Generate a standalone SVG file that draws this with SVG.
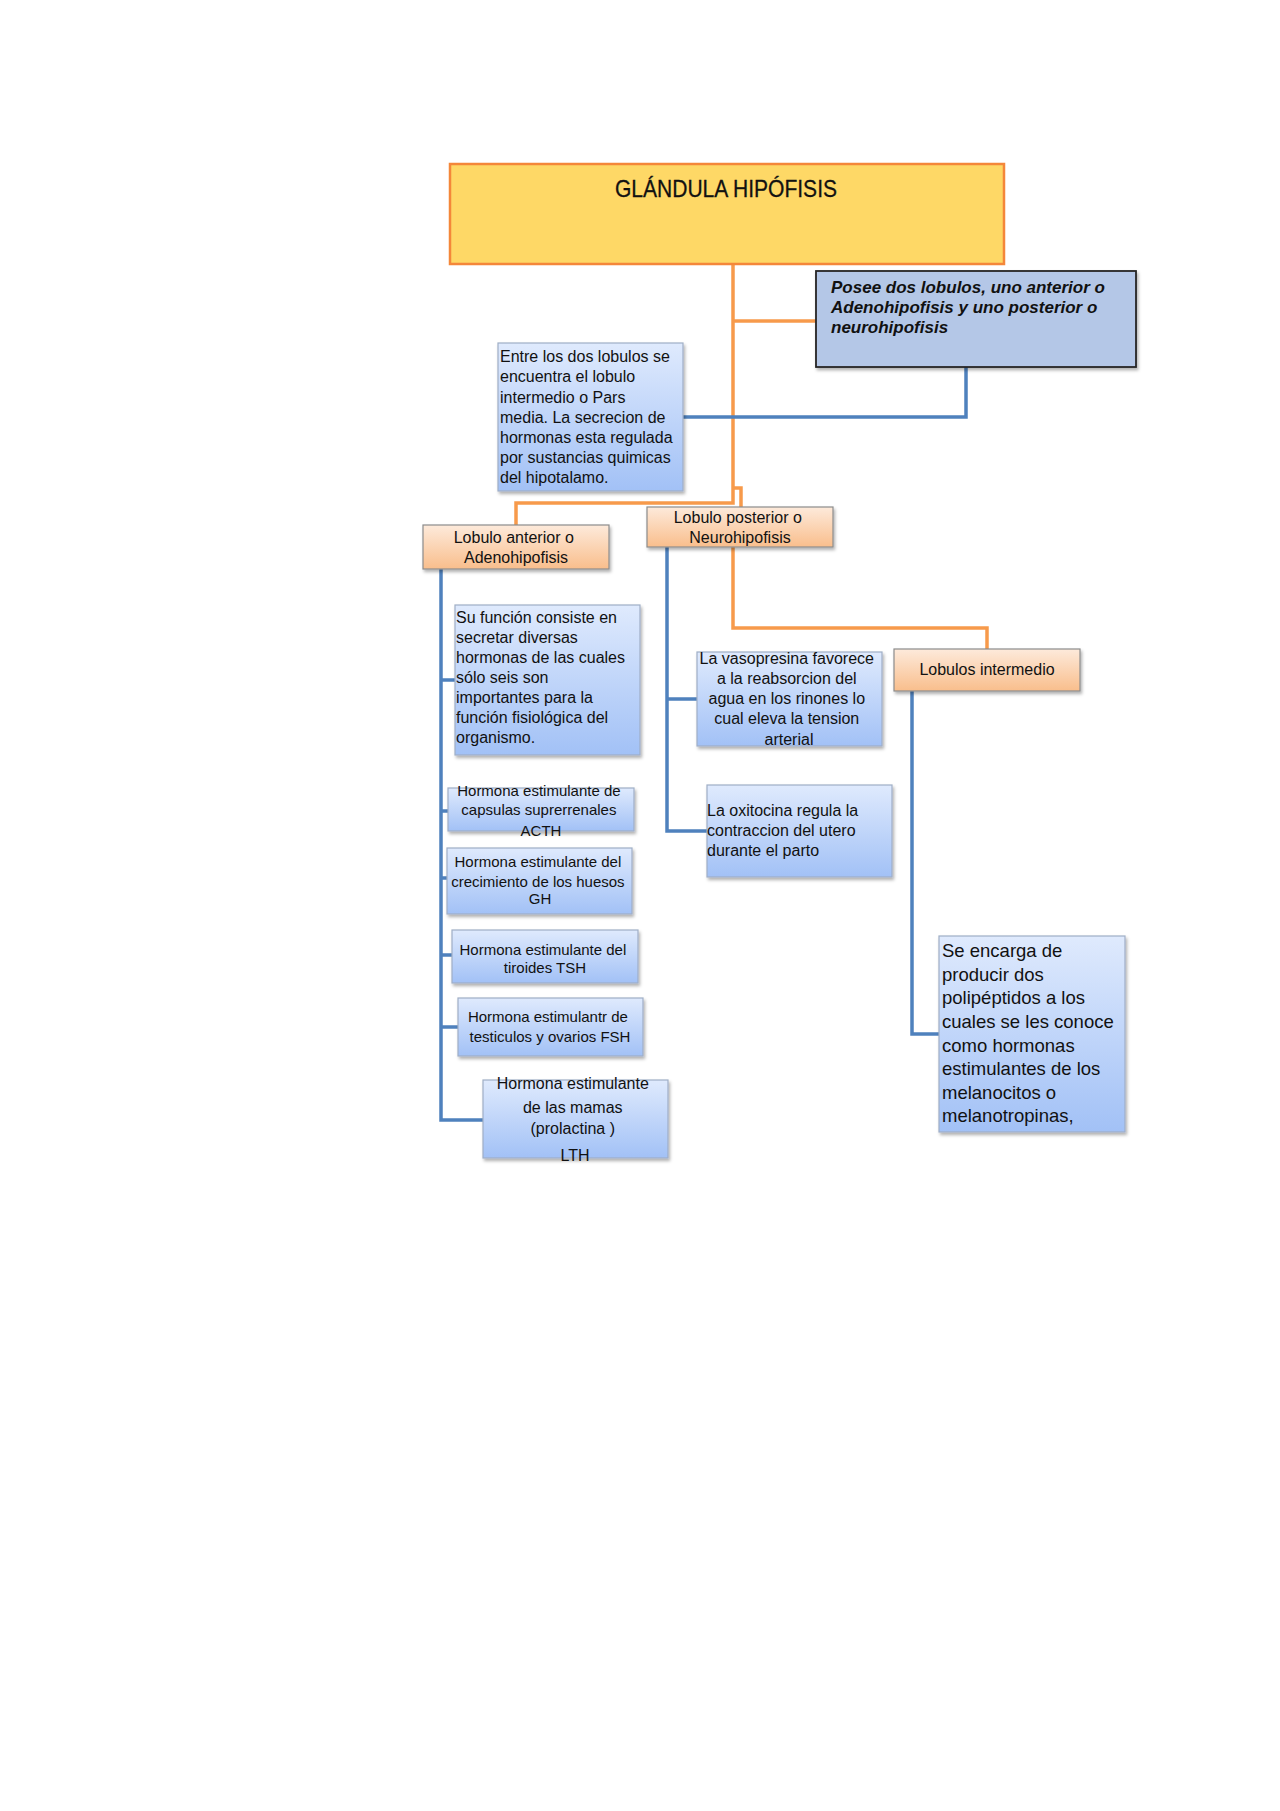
<svg xmlns="http://www.w3.org/2000/svg" width="1280" height="1811" viewBox="0 0 1280 1811">
<defs>
<linearGradient id="gBlue" x1="0" y1="0" x2="0" y2="1">
<stop offset="0" stop-color="#DFEAFD"/>
<stop offset="1" stop-color="#A2C1F6"/>
</linearGradient>
<linearGradient id="gPeach" x1="0" y1="0" x2="0" y2="1">
<stop offset="0" stop-color="#FDEADB"/>
<stop offset="1" stop-color="#F9BE8C"/>
</linearGradient>
<filter id="sh" x="-5%" y="-5%" width="115%" height="125%">
<feDropShadow dx="1.5" dy="2.5" stdDeviation="1.5" flood-color="#000" flood-opacity="0.3"/>
</filter>
<style>
.or{fill:none;stroke:#F79A4B;stroke-width:3.5;stroke-linejoin:miter}
.bl{fill:none;stroke:#4F81BD;stroke-width:3.5;stroke-linejoin:miter}
.bbox{fill:url(#gBlue);stroke:#9FAEC6;stroke-width:1.2;filter:url(#sh)}
.pbox{fill:url(#gPeach);stroke:#8C8C8C;stroke-width:1.2;filter:url(#sh)}
.t{font-family:"Liberation Sans",Arial,sans-serif;fill:#111}
.s16{font-size:16px}
.s15{font-size:15px}
.c{text-anchor:middle}
</style>
</defs>
<rect width="1280" height="1811" fill="#ffffff"/>

<g id="connectors">
<path class="or" d="M733,264 V503 H516 V525"/>
<path class="or" d="M733,321 H816"/>
<path class="or" d="M733,488 H741 V507"/>
<path class="or" d="M733,547 V628 H987 V649"/>
<path class="bl" d="M966,367 V417 H683"/>
<path class="bl" d="M441,569 V1120 H483"/>
<path class="bl" d="M441,680 H455 M441,811 H448 M441,878 H447 M441,955 H452 M441,1027 H458"/>
<path class="bl" d="M667,547 V831 H707 M667,699 H697"/>
<path class="bl" d="M912,691 V1034 H939"/>
</g>

<g id="title">
<rect x="450" y="164" width="554" height="100" fill="#FED866" stroke="#F4873A" stroke-width="2.5"/>
<text class="t" x="615" y="197" font-size="24" textLength="222" lengthAdjust="spacingAndGlyphs" stroke="#111" stroke-width="0.3">GLÁNDULA HIPÓFISIS</text>
</g>

<g id="posee">
<rect x="816" y="271" width="320" height="96" fill="#B4C7E7" stroke="#262626" stroke-width="1.8" filter="url(#sh)"/>
<text class="t" font-size="17" font-weight="bold" font-style="italic">
<tspan x="831" y="293">Posee dos lobulos, uno anterior o</tspan>
<tspan x="831" y="313">Adenohipofisis y uno posterior o</tspan>
<tspan x="831" y="333">neurohipofisis</tspan>
</text>
</g>

<g id="entre">
<rect class="bbox" x="498" y="343" width="185" height="148"/>
<text class="t s16">
<tspan x="500" y="362">Entre los dos lobulos se</tspan>
<tspan x="500" y="382">encuentra el lobulo</tspan>
<tspan x="500" y="403">intermedio o Pars</tspan>
<tspan x="500" y="423">media. La secrecion de</tspan>
<tspan x="500" y="443">hormonas esta regulada</tspan>
<tspan x="500" y="463">por sustancias quimicas</tspan>
<tspan x="500" y="483">del hipotalamo.</tspan>
</text>
</g>

<g id="anterior">
<rect class="pbox" x="423" y="525" width="186" height="44"/>
<text class="t s16 c">
<tspan x="516" y="543">Lobulo anterior o</tspan>
<tspan x="516" y="563">Adenohipofisis</tspan>
</text>
</g>

<g id="posterior">
<rect class="pbox" x="647" y="507" width="186" height="40"/>
<text class="t s16 c">
<tspan x="740" y="523">Lobulo posterior o</tspan>
<tspan x="740" y="543">Neurohipofisis</tspan>
</text>
</g>

<g id="intermedio">
<rect class="pbox" x="894" y="649" width="186" height="42"/>
<text class="t s16 c" x="987" y="675">Lobulos intermedio</text>
</g>

<g id="funcion">
<rect class="bbox" x="455" y="605" width="185" height="150"/>
<text class="t s16">
<tspan x="456" y="623">Su función consiste en</tspan>
<tspan x="456" y="643">secretar diversas</tspan>
<tspan x="456" y="663">hormonas de las cuales</tspan>
<tspan x="456" y="683">sólo seis son</tspan>
<tspan x="456" y="703">importantes para la</tspan>
<tspan x="456" y="723">función fisiológica del</tspan>
<tspan x="456" y="743">organismo.</tspan>
</text>
</g>

<g id="acth">
<rect class="bbox" x="448" y="788" width="186" height="43"/>
<text class="t s15 c">
<tspan x="541" y="796">Hormona estimulante de</tspan>
<tspan x="541" y="815">capsulas suprerrenales</tspan>
<tspan x="541" y="836">ACTH</tspan>
</text>
</g>

<g id="gh">
<rect class="bbox" x="447" y="848" width="185" height="66"/>
<text class="t s15 c">
<tspan x="540" y="867">Hormona estimulante del</tspan>
<tspan x="540" y="887">crecimiento de los huesos</tspan>
<tspan x="540" y="904">GH</tspan>
</text>
</g>

<g id="tsh">
<rect class="bbox" x="452" y="930" width="186" height="53"/>
<text class="t s15 c">
<tspan x="545" y="955">Hormona estimulante del</tspan>
<tspan x="545" y="973">tiroides TSH</tspan>
</text>
</g>

<g id="fsh">
<rect class="bbox" x="458" y="998" width="185" height="58"/>
<text class="t s15 c">
<tspan x="550" y="1022">Hormona estimulantr de</tspan>
<tspan x="550" y="1042">testiculos y ovarios FSH</tspan>
</text>
</g>

<g id="lth">
<rect class="bbox" x="483" y="1080" width="185" height="78"/>
<text class="t s16 c">
<tspan x="575" y="1089">Hormona estimulante</tspan>
<tspan x="575" y="1113">de las mamas</tspan>
<tspan x="575" y="1134">(prolactina )</tspan>
<tspan x="575" y="1161">LTH</tspan>
</text>
</g>

<g id="vasopresina">
<rect class="bbox" x="697" y="652" width="185" height="94"/>
<text class="t s16 c">
<tspan x="789" y="664">La vasopresina favorece</tspan>
<tspan x="789" y="684">a la reabsorcion del</tspan>
<tspan x="789" y="704">agua en los rinones lo</tspan>
<tspan x="789" y="724">cual eleva la tension</tspan>
<tspan x="789" y="745">arterial</tspan>
</text>
</g>

<g id="oxitocina">
<rect class="bbox" x="707" y="785" width="185" height="92"/>
<text class="t s16">
<tspan x="707" y="816">La oxitocina regula la</tspan>
<tspan x="707" y="836">contraccion del utero</tspan>
<tspan x="707" y="856">durante el parto</tspan>
</text>
</g>

<g id="melanocitos">
<rect class="bbox" x="939" y="936" width="186" height="196"/>
<text class="t" font-size="18.5">
<tspan x="942" y="957">Se encarga de</tspan>
<tspan x="942" y="981">producir dos</tspan>
<tspan x="942" y="1004">polipéptidos a los</tspan>
<tspan x="942" y="1028">cuales se les conoce</tspan>
<tspan x="942" y="1052">como hormonas</tspan>
<tspan x="942" y="1075">estimulantes de los</tspan>
<tspan x="942" y="1099">melanocitos o</tspan>
<tspan x="942" y="1122">melanotropinas,</tspan>
</text>
</g>
</svg>
